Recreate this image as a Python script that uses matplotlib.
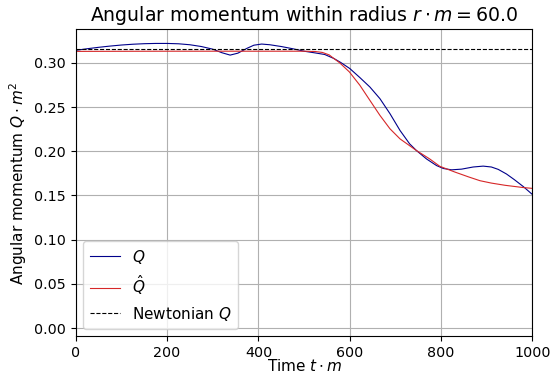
import matplotlib
matplotlib.use("Agg")
import matplotlib.pyplot as plt

# Q (blue)
t_q = [0, 25, 50, 75, 100, 125, 150, 175, 200, 225, 250, 275, 300, 320, 338,
       355, 375, 390, 407, 425, 450, 475, 500, 525, 545, 565, 580, 600, 622,
       644, 666, 688, 710, 731, 746, 768, 790, 805, 823, 845, 870, 892, 910,
       925, 943, 960, 980, 1000]
q = [0.3142, 0.3160, 0.3176, 0.3190, 0.3202, 0.3211, 0.3217, 0.3220, 0.3220,
     0.3216, 0.3205, 0.3185, 0.3155, 0.3115, 0.3088, 0.3110, 0.3165, 0.3200,
     0.3213, 0.3205, 0.3185, 0.3160, 0.3132, 0.3112, 0.3095, 0.3050, 0.3005,
     0.2936, 0.2834, 0.2727, 0.2595, 0.2425, 0.2235, 0.2084, 0.2008, 0.1913,
     0.1838, 0.1805, 0.1790, 0.1798, 0.1822, 0.1832, 0.1822, 0.1795, 0.1743,
     0.1680, 0.1600, 0.1510]

# Q hat (red)
t_qhat = [0, 100, 200, 300, 400, 500, 525, 540, 555, 565, 578, 599, 622, 644,
          666, 688, 710, 746, 775, 797, 830, 860, 885, 910, 940, 979, 1000]
qhat = [0.3130, 0.3131, 0.3132, 0.3132, 0.3132, 0.3132, 0.3128, 0.3118, 0.3090,
        0.3050, 0.3000, 0.2898, 0.2747, 0.2576, 0.2406, 0.2254, 0.2140, 0.2008,
        0.1913, 0.1830, 0.1765, 0.1710, 0.1667, 0.1640, 0.1615, 0.1590, 0.1580]

q_newton = 0.3162

fig, ax = plt.subplots(figsize=(5.57, 3.73), dpi=100)
fig.subplots_adjust(left=0.136, right=0.956, top=0.921, bottom=0.098)
ax.plot(t_q, q, color='darkblue', lw=0.8, label='$Q$')
ax.plot(t_qhat, qhat, color='tab:red', lw=0.8, label=r'$\hat{Q}$')
ax.axhline(q_newton, color='black', ls='--', lw=0.8, label='Newtonian $Q$')
ax.set_xlim(0, 1000)
ax.set_ylim(-0.0095, 0.3378)
ax.grid(True)
ax.tick_params(labelsize=10.3)
ax.set_title(r'Angular momentum within radius $r \cdot m = 60.0$', fontsize=13.6)
ax.set_xlabel(r'Time $t \cdot m$', fontsize=11, labelpad=-1.5)
ax.set_ylabel(r'Angular momentum $Q \cdot m^2$', fontsize=11)
ax.legend(loc='lower left', fontsize=11)
fig.savefig('out.png')
